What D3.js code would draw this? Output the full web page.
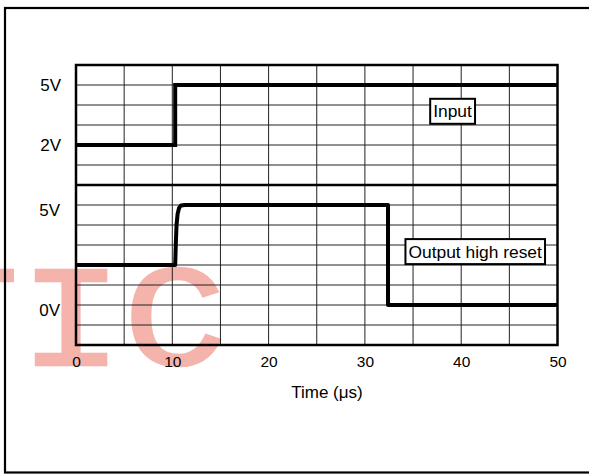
<!DOCTYPE html>
<html>
<head>
<meta charset="utf-8">
<script src="https://cdn.jsdelivr.net/npm/d3@7"></script>
<style>
  html, body { margin: 0; padding: 0; background: #fff; }
  svg { display: block; font-family: "Liberation Sans", Arial, sans-serif; }
</style>
</head>
<body>
<svg id="chart" width="589" height="476"></svg>
<script>
// ---- data ----
const timeTicks = [0, 10, 20, 30, 40, 50];
const inputTickValues = [2, 5];
const outputTickValues = [0, 5];
const inputTime = [0, 10.3, 10.3, 50];
const inputVolt = [2, 2, 5, 5];
const outputTime = [0, 10.3, 10.36, 10.44, 10.55, 10.7, 10.9, 11.3, 32.4, 32.4, 50];
const outputVolt = [2, 2, 3, 4, 4.55, 4.85, 4.97, 5, 5, 0, 0];
const seriesLabels = ["Input", "Output high reset"];
const xTitle = "Time (μs)";
const watermarkLetters = ["T", "I", "C"];

// ---- scales ----
const svg = d3.select("#chart");
const x = d3.scaleLinear().domain([0, 50]).range([76, 557.5]);
const yIn = d3.scaleLinear().domain([0, 6]).range([185, 65]);
const yOut = d3.scaleLinear().domain([-2, 6]).range([345, 185]);

svg.append("rect").attr("width", 589).attr("height", 476).attr("fill", "#fff");

// watermark (behind everything)
const wmX = [-33, 71, 175];
svg.append("g").selectAll("text").data(watermarkLetters).join("text")
  .attr("transform", (d, i) => `translate(${wmX[i]},365) scale(1.2,1)`)
  .attr("text-anchor", "middle")
  .attr("font-family", "Liberation Mono, monospace")
  .attr("font-size", 144)
  .attr("fill", "#f4b3ab")
  .attr("stroke", "#f4b3ab")
  .attr("stroke-width", 2.5)
  .text(d => d);

// outer frame
svg.append("rect").attr("x", 5).attr("y", 8).attr("width", 620).attr("height", 464.5)
  .attr("fill", "none").attr("stroke", "#000").attr("stroke-width", 2.2);

// grid
const grid = svg.append("g").attr("stroke", "#222").attr("stroke-width", 1);
grid.selectAll(".v").data(d3.range(5, 50, 5)).join("line")
  .attr("x1", d => x(d)).attr("x2", d => x(d)).attr("y1", 65).attr("y2", 345);
grid.selectAll(".hi").data(d3.range(1, 6)).join("line")
  .attr("x1", x(0)).attr("x2", x(50)).attr("y1", d => yIn(d)).attr("y2", d => yIn(d));
grid.selectAll(".ho").data(d3.range(-1, 6)).join("line")
  .attr("x1", x(0)).attr("x2", x(50)).attr("y1", d => yOut(d)).attr("y2", d => yOut(d));

// separator and plot border
svg.append("line").attr("x1", x(0)).attr("x2", x(50)).attr("y1", yIn(0)).attr("y2", yIn(0))
  .attr("stroke", "#000").attr("stroke-width", 2.5);
svg.append("rect").attr("x", x(0)).attr("y", yIn(6)).attr("width", x(50) - x(0)).attr("height", yOut(-2) - yIn(6))
  .attr("fill", "none").attr("stroke", "#000").attr("stroke-width", 2.5);

// waveforms
const lineIn = d3.line().x(i => x(inputTime[i])).y(i => yIn(inputVolt[i]));
const lineOut = d3.line().x(i => x(outputTime[i])).y(i => yOut(outputVolt[i]));
svg.append("path").attr("d", lineIn(d3.range(inputTime.length)))
  .attr("fill", "none").attr("stroke", "#000").attr("stroke-width", 4).attr("stroke-linejoin", "miter");
svg.append("path").attr("d", lineOut(d3.range(outputTime.length)))
  .attr("fill", "none").attr("stroke", "#000").attr("stroke-width", 4).attr("stroke-linejoin", "round");

// axes
const xAxis = svg.append("g").attr("transform", `translate(0,${yOut(-2)})`)
  .call(d3.axisBottom(x).tickValues(timeTicks).tickSize(0).tickPadding(11));
xAxis.select(".domain").remove();
xAxis.selectAll("text").attr("font-size", 15.5).attr("font-family", "Liberation Sans, Arial, sans-serif").attr("fill", "#000");

const yAxisIn = svg.append("g").attr("transform", `translate(${x(0)},0)`)
  .call(d3.axisLeft(yIn).tickValues(inputTickValues).tickFormat(d => d + "V").tickSize(0).tickPadding(15));
yAxisIn.select(".domain").remove();
yAxisIn.selectAll("text").attr("font-size", 17).attr("font-family", "Liberation Sans, Arial, sans-serif").attr("fill", "#000");

const yAxisOut = svg.append("g").attr("transform", `translate(${x(0)},5)`)
  .call(d3.axisLeft(yOut).tickValues(outputTickValues).tickFormat(d => d + "V").tickSize(0).tickPadding(16));
yAxisOut.select(".domain").remove();
yAxisOut.selectAll("text").attr("font-size", 17).attr("font-family", "Liberation Sans, Arial, sans-serif").attr("fill", "#000");

svg.append("text").attr("x", 327).attr("y", 398).attr("text-anchor", "middle")
  .attr("font-size", 17).text(xTitle);

// labels with boxes
function boxLabel(txt, cx, baseline) {
  const g = svg.append("g");
  const rect = g.append("rect");
  const t = g.append("text").attr("x", cx).attr("y", baseline).attr("text-anchor", "middle")
    .attr("font-size", 17.4).text(txt);
  const bb = t.node().getBBox();
  rect.attr("x", bb.x - 3).attr("y", bb.y - 2.5).attr("width", bb.width + 6).attr("height", bb.height + 5)
    .attr("fill", "#fff").attr("stroke", "#000").attr("stroke-width", 2);
}
boxLabel(seriesLabels[0], x(39.1), yIn(3.685) + 6);
boxLabel(seriesLabels[1], x(41.45), yOut(2.6) + 4.6);
</script>
</body>
</html>
